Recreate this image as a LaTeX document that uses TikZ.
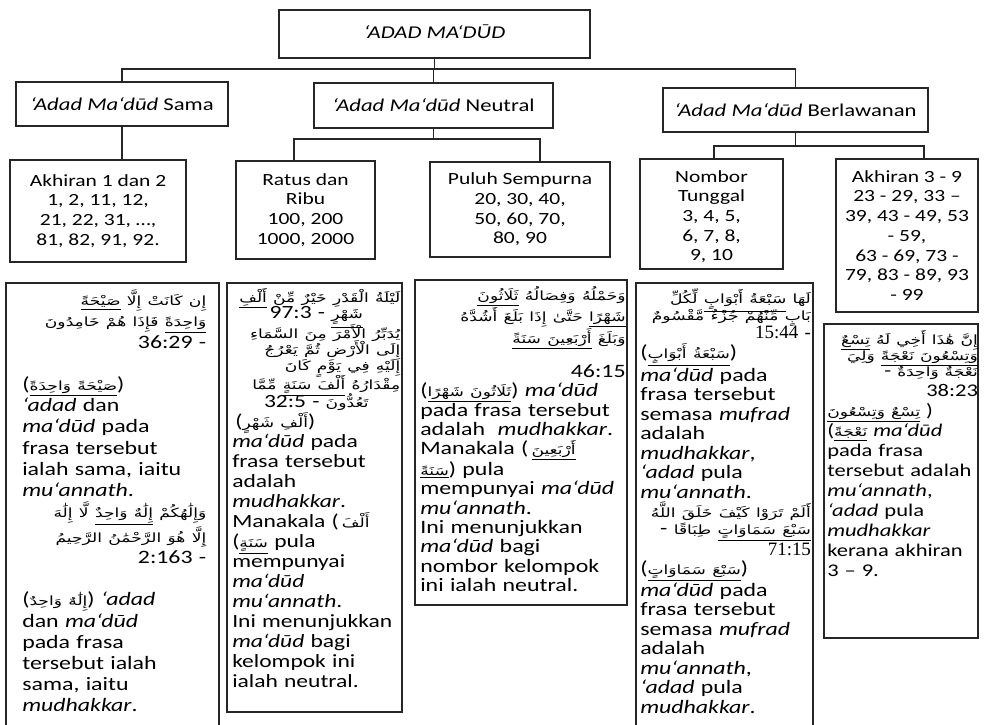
\documentclass[tikz,border=0pt]{standalone}
\usepackage{fontspec}
\setmainfont{Carlito}[FakeStretch=1.26]
\newfontfamily\arabicfont[Script=Arabic,FakeStretch=1.35]{DejaVu Sans}
\newfontfamily\refserif{Liberation Serif}
\TeXXeTstate=1
\usetikzlibrary{fit}
\newcommand\ar[1]{\mbox{\arabicfont\fontsize{9.5}{10}\selectfont\beginR#1\endR}}
\newcommand\au[1]{\underline{\beginR#1\endR}}
\newcommand\rl[1]{\hspace*{0pt plus 1filll}#1}
\newcommand\cl[1]{\hspace*{0pt plus 1filll}#1\hspace*{0pt plus 1filll}\mbox{}}
\tikzset{
  boxst/.style={draw=black!85, line width=0.8pt, inner sep=0pt},
  conn/.style={draw=black!85, line width=0.8pt},
  l2txt/.style={font=\fontsize{13.5}{16}\selectfont, inner sep=0pt},
  l3txt/.style={align=center, font=\fontsize{12.8}{14.8}\selectfont, inner sep=0pt},
  btxt/.style={anchor=north west, align=left, inner sep=0pt,
    execute at begin node={\hyphenpenalty=10000\exhyphenpenalty=10000}},
}
\begin{document}
\begin{tikzpicture}[x=0.75pt, y=-0.75pt]
\fill[white] (0,0) rectangle (987,724);
\useasboundingbox (0,0) rectangle (987,724);
% level 1
\node[boxst, fit={(279,10) (590,58)}] (top) {};
\node[l2txt, yshift=2pt] (ttop) at (top) {\textit{‘ADAD MA‘DŪD}};
% level 2
\node[boxst, fit={(16,82) (228,126)}] (l2a) {};
\node[boxst, fit={(314,83) (553,128)}] (l2b) {};
\node[boxst, fit={(663,88) (928,132)}] (l2c) {};
\node[l2txt] (tl2a) at (l2a) {\textit{‘Adad Ma‘dūd} Sama};
\node[l2txt] (tl2b) at (l2b) {\textit{‘Adad Ma‘dūd} Neutral};
\node[l2txt] (tl2c) at (l2c) {\textit{‘Adad Ma‘dūd} Berlawanan};
% level 3
\node[boxst, fit={(10,160) (186,262)}] (l3a) {};
\node[boxst, fit={(236,161) (375,259)}] (l3b) {};
\node[boxst, fit={(430,162) (610,257)}] (l3c) {};
\node[boxst, fit={(640,159) (783,269)}] (l3d) {};
\node[boxst, fit={(836,159) (978,312)}] (l3e) {};
\node[l3txt] (tl3a) at (l3a) {Akhiran 1 dan 2\\1, 2, 11, 12,\\21, 22, 31, …,\\81, 82, 91, 92.};
\node[l3txt] (tl3b) at (l3b) {Ratus dan\\Ribu\\100, 200\\1000, 2000};
\node[l3txt] (tl3c) at (l3c) {Puluh Sempurna\\20, 30, 40,\\50, 60, 70,\\80, 90};
\node[l3txt] (tl3d) at ([yshift=-2pt]l3d) {Nombor\\Tunggal\\3, 4, 5,\\6, 7, 8,\\9, 10};
\node[l3txt] (tl3e) at (l3e) {Akhiran 3 - 9\\23 - 29, 33 –\\39, 43 - 49, 53\\- 59,\\63 - 69, 73 -\\79, 83 - 89, 93\\- 99};
% connectors
\coordinate (bus1) at (0,69);
\coordinate (bus2) at (0,139);
\coordinate (bus3) at (0,146);
\coordinate (c3b) at (294,139);
\coordinate (c3c) at (540,139);
\coordinate (c3d) at (714,146);
\coordinate (c3e) at (924,146);
\draw[conn] (top.south) -- (top.south |- bus1);
\draw[conn] (l2a.north) |- (bus1 -| l2c.north) -- (l2c.north);
\draw[conn] (l2b.north) -- (l2b.north |- bus1);
\draw[conn] (l2a.south) -- (l2a.south |- l3a.north);
\draw[conn] (l2b.south) -- (l2b.south |- bus2);
\draw[conn] (c3b |- l3b.north) -- (c3b) -- (c3c) -- (c3c |- l3c.north);
\draw[conn] (l2c.south) -- (l2c.south |- bus3);
\draw[conn] (c3d |- l3d.north) -- (c3d) -- (c3e) -- (c3e |- l3e.north);
% bottom boxes
\node[boxst, fit={(6,283) (219,740)}] (b1) {};
\node[boxst, fit={(227,283) (402,712)}] (b2) {};
\node[boxst, fit={(415,280) (627,605)}] (b3) {};
\node[boxst, fit={(636,283) (813,740)}] (b4) {};
\node[boxst, fit={(824,324) (978,638)}] (b5) {};
\node[btxt, text width=138pt, font=\fontsize{14.2}{15.9}\selectfont] (tb1) at (22,290) {%
\rl{\ar{إِن كَانَتْ إِلَّا \au{صَيْحَةً}}}\\
\rl{\ar{\au{وَاحِدَةً} فَإِذَا هُمْ خَامِدُونَ}}\\
\rl{36:29 -}\\
~\\
(\ar{\au{صَيْحَةً وَاحِدَةً}})\\
\textit{‘adad} dan\\
\textit{ma‘dūd} pada\\
frasa tersebut\\
ialah sama, iaitu\\
\textit{mu‘annath}.\\
\rl{\ar{وَإِلَٰهُكُمْ \au{إِلَٰهٌ وَاحِدٌ} لَّا إِلَٰهَ}}\\
\rl{\ar{إِلَّا هُوَ الرَّحْمَٰنُ الرَّحِيمُ}}\\
\rl{2:163 -}\\
~\\
(\ar{إِلَٰهٌ وَاحِدٌ}) \textit{‘adad}\\
dan \textit{ma‘dūd}\\
pada frasa\\
tersebut ialah\\
sama, iaitu\\
\textit{mudhakkar}.};
\node[btxt, text width=126pt, font=\fontsize{14}{15}\selectfont] (tb2) at (232,288) {%
\rl{\ar{لَيْلَةُ الْقَدْرِ خَيْرٌ مِّنْ \au{أَلْفِ}}}\\[-3pt]
\cl{97:3 - \ar{\au{شَهْرٍ}}}\\[-3pt]
\rl{\ar{يُدَبِّرُ الْأَمْرَ مِنَ السَّمَاءِ}}\\[-3pt]
\rl{\ar{إِلَى الْأَرْضِ ثُمَّ يَعْرُجُ}}\\[-3pt]
\rl{\ar{إِلَيْهِ فِي يَوْمٍ كَانَ}}\\[-3pt]
\rl{\ar{مِقْدَارُهُ \au{أَلْفَ سَنَةٍ} مِّمَّا}}\\[-3pt]
\cl{32:5 - \ar{تَعُدُّونَ}}\\
\,(\ar{أَلْفِ شَهْرٍ})\\
\textit{ma‘dūd} pada\\
frasa tersebut\\
adalah\\
\textit{mudhakkar}.\\
Manakala (\,\ar{أَلْفَ}\\
(\ar{\au{سَنَةٍ}} pula\\
mempunyai\\
\textit{ma‘dūd}\\
\textit{mu‘annath}.\\
Ini menunjukkan\\
\textit{ma‘dūd} bagi\\
kelompok ini\\
ialah neutral.};
\node[btxt, text width=154pt, font=\fontsize{14.2}{14.5}\selectfont] (tb3) at (420,286) {%
\rl{\ar{وَحَمْلُهُ وَفِصَالُهُ \au{ثَلَاثُونَ}}}\\
\rl{\ar{\au{شَهْرًا} حَتَّىٰ إِذَا بَلَغَ أَشُدَّهُ}}\\
\rl{\ar{وَبَلَغَ \au{أَرْبَعِينَ سَنَةً}}}\\[11pt]
\rl{46:15}\\
(\ar{\au{ثَلَاثُونَ شَهْرًا}}) \textit{ma‘dūd}\\
pada frasa tersebut\\
adalah \ \textit{mudhakkar}.\\
Manakala (\,\ar{\au{أَرْبَعِينَ}}\\
\ar{\au{سَنَةً}}) pula\\
mempunyai \textit{ma‘dūd}\\
\textit{mu‘annath}.\\
Ini menunjukkan\\
\textit{ma‘dūd} bagi\\
nombor kelompok\\
ini ialah neutral.};
\node[btxt, text width=128pt, font=\fontsize{14.2}{14.6}\selectfont] (tb4) at (640,288) {%
\rl{\ar{لَهَا \au{سَبْعَةُ أَبْوَابٍ} لِّكُلِّ}}\\[-2pt]
\rl{\ar{بَابٍ مِّنْهُمْ جُزْءٌ مَّقْسُومٌ}}\\[-1pt]
\rl{{\refserif 15:44 -}}\\
(\ar{\au{سَبْعَةُ أَبْوَابٍ}})\\
\textit{ma‘dūd} pada\\
frasa tersebut\\
semasa \textit{mufrad}\\
adalah\\
\textit{mudhakkar},\\
\textit{‘adad} pula\\
\textit{mu‘annath}.\\
\rl{\ar{أَلَمْ تَرَوْا كَيْفَ خَلَقَ اللَّهُ}}\\[-2pt]
\rl{- \ar{\au{سَبْعَ سَمَاوَاتٍ} طِبَاقًا}}\\[1pt]
\rl{{\refserif 71:15}}\\
(\ar{\au{سَبْعَ سَمَاوَاتٍ}})\\
\textit{ma‘dūd} pada\\
frasa tersebut\\
semasa \textit{mufrad}\\
adalah\\
\textit{mu‘annath},\\
\textit{‘adad} pula\\
\textit{mudhakkar}.};
\node[btxt, text width=113pt, font=\fontsize{13.4}{15}\selectfont] (tb5) at (827,330) {%
\rl{\ar{إِنَّ هَٰذَا أَخِي لَهُ \au{تِسْعٌ}}}\\[-3pt]
\rl{\ar{\au{وَتِسْعُونَ نَعْجَةً} وَلِيَ}}\\[-3pt]
\rl{- \ar{نَعْجَةٌ وَاحِدَةٌ}}\\
\rl{38:23}\\
\ar{\au{تِسْعٌ وَتِسْعُونَ}} )\\
(\ar{\au{نَعْجَةً}} \textit{ma‘dūd}\\
pada frasa\\
tersebut adalah\\
\textit{mu‘annath},\\
\textit{‘adad} pula\\
\textit{mudhakkar}\\
kerana akhiran\\
3 – 9.};
\end{tikzpicture}
\end{document}
